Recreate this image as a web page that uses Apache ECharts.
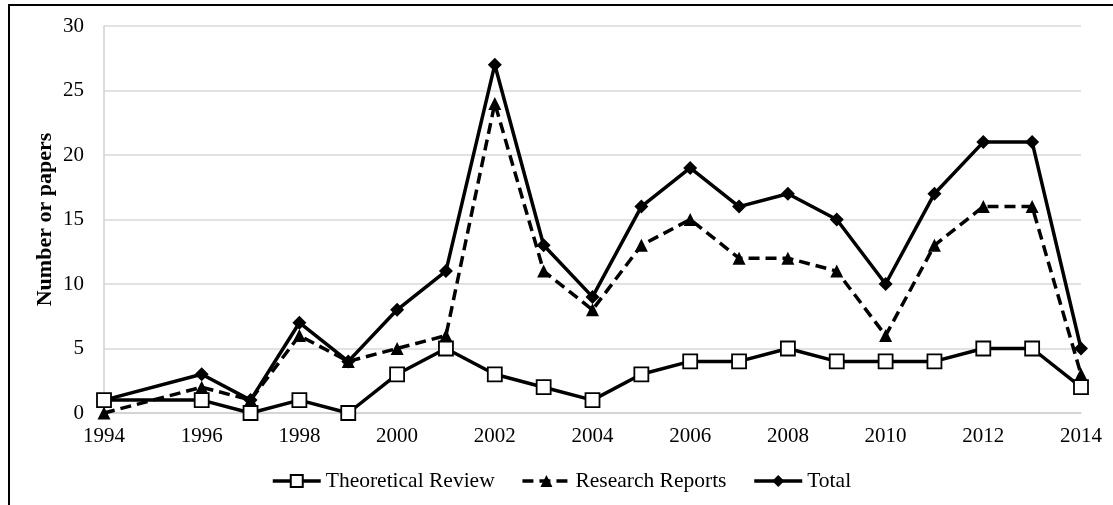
<!DOCTYPE html>
<html><head><meta charset="utf-8">
<script src="https://cdn.jsdelivr.net/npm/echarts@6/dist/echarts.min.js"></script>
<style>html,body{margin:0;padding:0;background:#fff}#c{width:1113px;height:505px;position:relative}
#frame{position:absolute;left:8px;top:4px;right:-5px;bottom:-5px;border-left:2px solid #000;border-top:2px solid #000;pointer-events:none}</style>
</head><body><div id="c"></div><div id="frame"></div>
<script>
const years = [1994,1996,1997,1998,1999,2000,2001,2002,2003,2004,2005,2006,2007,2008,2009,2010,2011,2012,2013,2014];
const theoreticalReview = [1,1,0,1,0,3,5,3,2,1,3,4,4,5,4,4,4,5,5,2];
const researchReports = [0,2,1,6,4,5,6,24,11,8,13,15,12,12,11,6,13,16,16,3];
const total = [1,3,1,7,4,8,11,27,13,9,16,19,16,17,15,10,17,21,21,5];
const seriesNames = ['Theoretical Review','Research Reports','Total'];
const yTitle = 'Number or papers';

const pair = arr => years.map((y,i)=>[y,arr[i]]);
const font = 'Liberation Serif, Times New Roman, serif';
const chart = echarts.init(document.getElementById('c'), null, {renderer:'canvas'});
chart.setOption({
  animation:false,
  grid:{left:104,right:32,top:26,bottom:92,containLabel:false},
  legend:{top:465,left:266,itemWidth:48,itemHeight:15,itemGap:26,
    lineStyle:{width:3.5},
    textStyle:{fontFamily:font,fontSize:21.5,color:'#000'},
    data:seriesNames},
  xAxis:{type:'value',min:1994,max:2014,interval:2,
    axisLine:{show:true,lineStyle:{color:'#d0d0d0',width:1.5}},
    axisTick:{show:false},splitLine:{show:false},
    axisLabel:{fontFamily:font,fontSize:21,color:'#000',margin:13,formatter:v=>String(v)}},
  yAxis:{type:'value',min:0,max:30,interval:5,
    name:yTitle,nameLocation:'middle',nameGap:48,nameMoveOverlap:false,
    nameTextStyle:{fontFamily:font,fontSize:22,fontWeight:'bold',color:'#000'},
    axisLine:{show:true,lineStyle:{color:'#d0d0d0',width:1.5}},
    axisTick:{show:false},
    splitLine:{lineStyle:{color:'#d9d9d9',width:1.5}},
    axisLabel:{fontFamily:font,fontSize:21,color:'#000',margin:20}},
  series:[
    {name:seriesNames[2],type:'line',data:pair(total),symbol:'diamond',symbolSize:14,
      lineStyle:{color:'#000',width:3.5},itemStyle:{color:'#000'},z:2},
    {name:seriesNames[1],type:'line',data:pair(researchReports),symbol:'triangle',symbolSize:13,
      lineStyle:{color:'#000',width:3.5,type:[11,6]},itemStyle:{color:'#000'},z:3},
    {name:seriesNames[0],type:'line',data:pair(theoreticalReview),symbol:'rect',symbolSize:14,showAllSymbol:true,
      lineStyle:{color:'#000',width:3.5},itemStyle:{color:'#fff',borderColor:'#000',borderWidth:1.8},z:4}
  ]
});
</script></body></html>
